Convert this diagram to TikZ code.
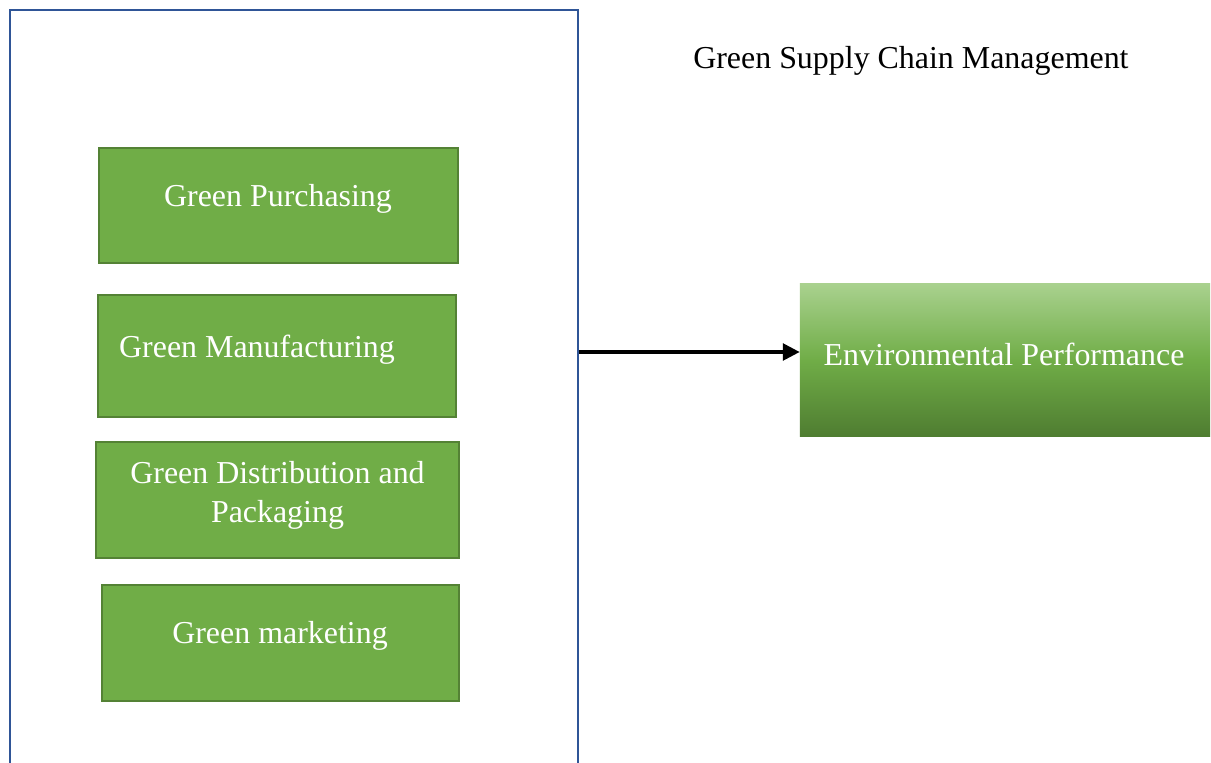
\documentclass[tikz,border=0pt]{standalone}
\usepackage{fontspec}
\setmainfont{Liberation Serif}
\usepackage{tikz}
\usetikzlibrary{arrows.meta,positioning,calc}
\definecolor{boxgreen}{HTML}{70AD47}
\definecolor{boxedge}{HTML}{548235}
\definecolor{eptop}{HTML}{A9D18E}
\definecolor{epbot}{HTML}{4F7D31}
\definecolor{frameblue}{HTML}{2F5597}
\tikzset{%
	gmbox/.style={rectangle, draw=boxedge, line width=1.2pt, fill=boxgreen, inner sep=0pt},
	gmtext/.style={text=white, font=\fontsize{22.7}{27.7}\selectfont, inner sep=0pt, align=center},
	epbox/.style={rectangle, inner sep=0pt, top color=eptop, bottom color=epbot, middle color=boxgreen},
	frameline/.style={draw=frameblue, line width=1.5pt},
	toep/.style={draw=black, line width=2.2pt,-{Triangle[length=12pt,width=12pt]}}}
\begin{document}
\begin{tikzpicture}[x=0.025cm, y=-0.025cm]
		\useasboundingbox (0,0) rectangle (1211,763);
		% outer frame (bottom runs off the page)
		\draw[frameline] (10,766) |- (578,10) -- (578,766);
		\coordinate (gscm) at (579,352);
		
		\node[anchor=west, inner sep=0pt, font=\fontsize{22.7}{27.7}\selectfont] (title) at (693,61) {Green Supply Chain Management};
		
		\node[gmbox, minimum width=8.975cm, minimum height=2.875cm] (gp) at (278.5,205.5) {};
		\node[gmbox, minimum width=8.95cm, minimum height=3.05cm] (gm) at (277,356) {};
		\node[gmbox, minimum width=9.075cm, minimum height=2.9cm] (gd) at (277.5,500) {};
		\node[gmbox, minimum width=8.925cm, minimum height=2.9cm] (gmk) at (280.5,643) {};
		\node[epbox, minimum width=10.25cm, minimum height=3.8cm] (ep) at (1005,360) {};
		
		\node[gmtext] (gpt) at (278,199) {Green Purchasing};
		\node[gmtext] (gmt) at (257,350) {Green Manufacturing};
		\node[gmtext] (gdt) at (277.5,495) {Green Distribution and\\Packaging};
		\node[gmtext] (gmkt) at (280,636) {Green marketing};
		\node[gmtext] (ept) at (1004,354) {Environmental Performance};
		
		\path[toep] (gscm) -- (gscm -| ep.west);
	\end{tikzpicture}
\end{document}
